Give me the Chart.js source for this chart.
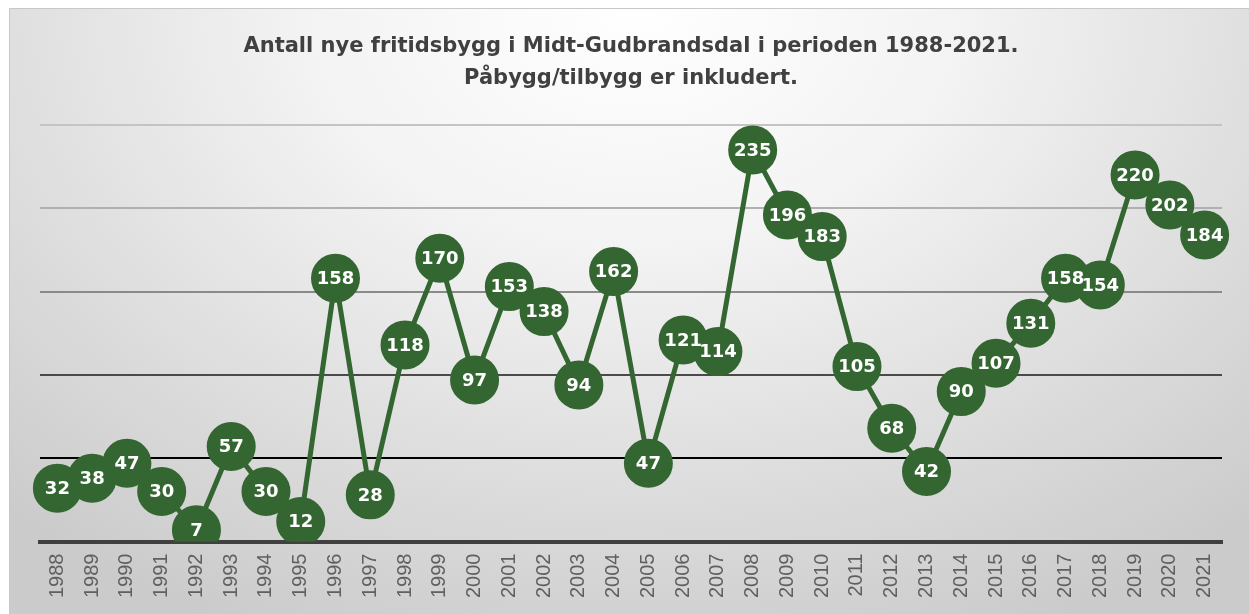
<!DOCTYPE html>
<html>
<head>
<meta charset="utf-8">
<script src="https://cdn.jsdelivr.net/npm/chart.js@4"></script>
<style>
  html, body { margin: 0; padding: 0; background: #fff; }
  #frame {
    position: absolute; left: 9px; top: 8px; width: 1250px; height: 620px;
    border: 1px solid #c8c8c8; box-sizing: border-box;
    background: radial-gradient(ellipse 75% 110% at 50% 0%, #ffffff 0%, #f3f3f3 35%, #dadada 75%, #cbcbcb 100%);
  }
  #wrap { position: absolute; left: 0; top: 0; width: 1249px; height: 614px; }
</style>
</head>
<body>
<div id="frame"></div>
<div id="wrap"><canvas id="myChart"></canvas></div>
<script>
var years = ['1988','1989','1990','1991','1992','1993','1994','1995','1996','1997',
'1998','1999','2000','2001','2002','2003','2004','2005','2006','2007',
'2008','2009','2010','2011','2012','2013','2014','2015','2016','2017',
'2018','2019','2020','2021'];
var buildings = [32,38,47,30,7,57,30,12,158,28,
118,170,97,153,138,94,162,47,121,114,
235,196,183,105,68,42,90,107,131,158,
154,220,202,184];

var green = 'rgb(52,102,50)';

// white numbers inside the circles
var pointText = {
  id: 'pointText',
  afterDatasetsDraw: function(chart) {
    var ctx = chart.ctx;
    var meta = chart.getDatasetMeta(0);
    ctx.save();
    ctx.fillStyle = '#ffffff';
    ctx.font = 'bold 18px "DejaVu Sans"';
    ctx.textAlign = 'center';
    ctx.textBaseline = 'middle';
    meta.data.forEach(function(pt, i) {
      ctx.fillText(buildings[i], pt.x, pt.y + 1);
    });
    ctx.restore();
  }
};

var gridColors = { 0: '#404040', 50: '#000000', 100: '#4a4a4a', 150: '#8a8a8a', 200: '#b0b0b0', 250: '#c4c4c4' };

var ctx = document.getElementById("myChart");
var myChart = new Chart(ctx, {
  type: 'line',
  data: {
    labels: years,
    datasets: [{
      label: 'Antall',
      data: buildings,
      borderColor: green,
      borderWidth: 5,
      backgroundColor: green,
      pointBackgroundColor: green,
      pointBorderColor: green,
      pointRadius: 22,
      pointHoverRadius: 22,
      tension: 0
    }]
  },
  options: {
    responsive: true,
    maintainAspectRatio: false,
    animation: false,
    layout: { padding: { left: 40, right: 27, top: 20, bottom: 12 } },
    plugins: {
      legend: { display: false },
      tooltip: { enabled: false },
      title: {
        display: true,
        text: ['Antall nye fritidsbygg i Midt-Gudbrandsdal i perioden 1988-2021.', 'Påbygg/tilbygg er inkludert.'],
        color: '#404040',
        font: { family: 'DejaVu Sans', size: 21, weight: 'bold', lineHeight: 1.5 },
        padding: { top: 11, bottom: 31 }
      }
    },
    scales: {
      x: {
        offset: true,
        grid: { display: false },
        border: { color: '#404040', width: 4 },
        ticks: {
          color: '#606060',
          font: { family: 'Liberation Sans', size: 20 },
          maxRotation: 90, minRotation: 90,
          autoSkip: false,
          padding: 4
        }
      },
      y: {
        min: 0, max: 250,
        ticks: { display: false, stepSize: 50 },
        border: { display: false },
        grid: {
          drawTicks: false,
          color: function(c) { return gridColors[c.tick.value] || '#999'; },
          lineWidth: function(c) { return c.tick.value === 0 ? 0 : 2; }
        }
      }
    }
  },
  plugins: [pointText]
});
</script>
</body>
</html>
